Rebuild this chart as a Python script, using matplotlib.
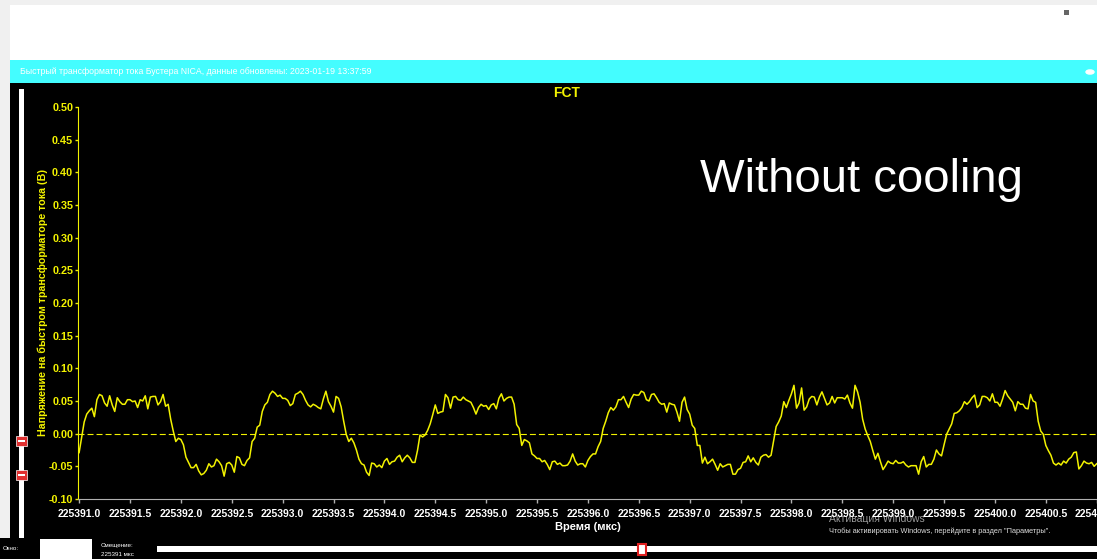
import numpy as np
import matplotlib
matplotlib.use("Agg")
import matplotlib.pyplot as plt
from matplotlib.patches import Rectangle, Circle
from matplotlib.ticker import MultipleLocator, FormatStrFormatter

# FCT signal, sampled every 0.025 us starting at 225391.0 us
t_start = 225391.0
dt = 0.025
voltage = [
    # 225391.0 .. 225393.0
    -0.029, -0.006, 0.018, 0.030, 0.035, 0.039, 0.026, 0.052, 0.060, 0.058,
    0.047, 0.042, 0.058, 0.044, 0.034, 0.055, 0.049, 0.045, 0.045, 0.052,
    0.052, 0.049, 0.050, 0.040, 0.052, 0.050, 0.058, 0.038, 0.056, 0.057,
    0.057, 0.044, 0.049, 0.060, 0.042, 0.045, 0.022, 0.004, -0.012, -0.007,
    -0.009, -0.017, -0.036, -0.044, -0.052, -0.052, -0.047, -0.057, -0.063, -0.061,
    -0.056, -0.046, -0.051, -0.049, -0.039, -0.043, -0.049, -0.065, -0.046, -0.044,
    -0.048, -0.059, -0.035, -0.037, -0.047, -0.049, -0.041, -0.037, -0.012, -0.007,
    0.010, 0.013, 0.034, 0.044, 0.048, 0.060, 0.065, 0.062, 0.057, 0.059,
    # 225393.0 .. 225395.0
    0.054, 0.054, 0.051, 0.043, 0.046, 0.060, 0.062, 0.065, 0.060, 0.051,
    0.044, 0.041, 0.045, 0.043, 0.040, 0.038, 0.053, 0.065, 0.049, 0.042,
    0.033, 0.057, 0.054, 0.041, 0.019, -0.001, -0.012, -0.007, -0.014, -0.025,
    -0.039, -0.046, -0.048, -0.059, -0.064, -0.045, -0.046, -0.051, -0.048, -0.052,
    -0.042, -0.038, -0.047, -0.043, -0.042, -0.036, -0.033, -0.043, -0.037, -0.033,
    -0.037, -0.044, -0.044, -0.026, -0.002, -0.005, -0.002, 0.005, 0.015, 0.029,
    0.044, 0.031, 0.033, 0.034, 0.060, 0.055, 0.039, 0.056, 0.057, 0.052,
    0.051, 0.056, 0.052, 0.050, 0.048, 0.040, 0.030, 0.040, 0.045, 0.042,
    # 225395.0 .. 225397.0
    0.043, 0.037, 0.044, 0.046, 0.038, 0.054, 0.061, 0.050, 0.054, 0.056,
    0.056, 0.045, 0.014, 0.008, -0.018, -0.009, -0.011, -0.014, -0.031, -0.034,
    -0.038, -0.038, -0.043, -0.041, -0.047, -0.055, -0.043, -0.042, -0.047, -0.045,
    -0.049, -0.049, -0.048, -0.042, -0.031, -0.042, -0.048, -0.046, -0.046, -0.051,
    -0.041, -0.035, -0.031, -0.031, -0.020, -0.012, 0.008, 0.019, 0.032, 0.040,
    0.036, 0.041, 0.052, 0.052, 0.057, 0.048, 0.040, 0.053, 0.060, 0.059,
    0.059, 0.065, 0.063, 0.052, 0.050, 0.060, 0.061, 0.055, 0.048, 0.045,
    0.046, 0.033, 0.047, 0.045, 0.044, 0.033, 0.019, 0.048, 0.056, 0.037,
    # 225397.0 .. 225399.0
    0.030, 0.013, 0.008, -0.018, -0.018, -0.045, -0.036, -0.046, -0.043, -0.039,
    -0.047, -0.056, -0.046, -0.051, -0.049, -0.047, -0.047, -0.062, -0.062, -0.055,
    -0.053, -0.044, -0.043, -0.034, -0.043, -0.037, -0.044, -0.048, -0.036, -0.033,
    -0.032, -0.036, -0.033, -0.011, 0.011, 0.018, 0.027, 0.049, 0.040, 0.051,
    0.061, 0.074, 0.039, 0.047, 0.070, 0.036, 0.041, 0.053, 0.057, 0.056,
    0.044, 0.056, 0.064, 0.054, 0.044, 0.047, 0.057, 0.047, 0.055, 0.055,
    0.055, 0.053, 0.059, 0.047, 0.039, 0.074, 0.064, 0.048, 0.022, 0.007,
    -0.003, -0.012, -0.026, -0.039, -0.030, -0.043, -0.055, -0.049, -0.042, -0.045,
    # 225399.0 .. 225401.0
    -0.046, -0.041, -0.045, -0.045, -0.043, -0.048, -0.051, -0.049, -0.049, -0.049,
    -0.062, -0.043, -0.035, -0.051, -0.047, -0.047, -0.039, -0.025, -0.031, -0.034,
    -0.017, -0.001, 0.007, 0.015, 0.031, 0.032, 0.035, 0.040, 0.049, 0.045,
    0.049, 0.055, 0.059, 0.040, 0.044, 0.057, 0.057, 0.055, 0.050, 0.061,
    0.048, 0.048, 0.042, 0.053, 0.066, 0.058, 0.053, 0.048, 0.035, 0.049,
    0.045, 0.045, 0.039, 0.038, 0.060, 0.050, 0.048, 0.019, 0.004, -0.001,
    -0.018, -0.026, -0.033, -0.045, -0.048, -0.045, -0.048, -0.042, -0.045, -0.039,
    -0.036, -0.029, -0.028, -0.054, -0.049, -0.042, -0.045, -0.046, -0.044, -0.050,
    -0.046,
]
time_us = t_start + dt * np.arange(len(voltage))

header = "Быстрый трансформатор тока Бустера NICA, данные обновлены: 2023-01-19 13:37:59"
title = "FCT"
xlabel = "Время (мкс)"
ylabel = "Напряжение на быстром трансформаторе тока (В)"
note = "Without cooling"

W, H = 1097, 559
plt.rcParams['font.family'] = ['Liberation Sans', 'DejaVu Sans']
plt.rcParams['lines.scale_dashes'] = False

fig = plt.figure(figsize=(W / 100, H / 100), dpi=100, facecolor='#f0f0f0')


def fx(px):
    return px / W


def fy(py):
    return 1 - py / H


def box(x0, y0, x1, y1, color, z=-5, **kw):
    fig.add_artist(Rectangle((fx(x0), fy(y1)), (x1 - x0) / W, (y1 - y0) / H,
                             transform=fig.transFigure, facecolor=color,
                             edgecolor=kw.pop('ec', 'none'), zorder=z, **kw))


# page background pieces
box(10, 5, W, 60, 'white')
box(10, 60, W, 83, '#44fdff')
box(10, 83, W, H, 'black')
box(0, 538, 10, H, 'black')
fig.text(fx(20), fy(72), header, color='white', fontsize=6.3, va='center')
fig.add_artist(Circle((fx(1090), fy(72)), 4 / W, transform=fig.transFigure,
                      color='white', zorder=2))
box(1064, 10, 1069, 15, '#666666', z=2)

# left vertical slider
box(18.5, 89, 24, 538, 'white', z=1)
for yc in (441, 475):
    box(16, yc - 5, 27, yc + 5, '#e03030', z=2, ec='#ffffff', linewidth=0.5)
    box(18, yc - 1, 25, yc + 1, 'white', z=3)

# bottom controls
fig.text(fx(3), fy(548), "Окно:", color='white', fontsize=4.5, va='center')
box(40, 539, 92, H, 'white', z=1)
fig.text(fx(101), fy(546), "Смещение:", color='white', fontsize=4.5, va='center')
fig.text(fx(101), fy(555), "225391 мкс", color='white', fontsize=4.5, va='center')
box(157, 546, W, 552, 'white', z=1)
box(638, 544, 646, 555, 'white', z=2, ec='#e02020', linewidth=1.5)

# main plot
ax = fig.add_axes([fx(78), fy(499), (W - 78) / W, (499 - 107) / H])
ax.set_facecolor('black')
ax.plot(time_us, voltage, color='#f2f200', linewidth=1.1)
ax.axhline(0, color='#f2f200', linewidth=0.8, dashes=(4.3, 2.2))

ax.set_xlim(225390.989, 225401.003)
ax.set_ylim(-0.10, 0.50)
ax.xaxis.set_major_locator(MultipleLocator(0.5))
ax.xaxis.set_major_formatter(FormatStrFormatter('%.1f'))
ax.yaxis.set_major_locator(MultipleLocator(0.05))
ax.yaxis.set_major_formatter(FormatStrFormatter('%.2f'))

for side in ('top', 'right'):
    ax.spines[side].set_visible(False)
ax.spines['left'].set_color('#f2f200')
ax.spines['bottom'].set_color('#b0b0b0')
ax.tick_params(axis='x', colors='#b0b0b0', length=3, width=1, pad=4,
               labelcolor='white', labelsize=7.5)
ax.tick_params(axis='y', colors='#f2f200', length=2, width=1, pad=1.5,
               labelcolor='#f2f200', labelsize=7.8)
for lab in ax.get_xticklabels() + ax.get_yticklabels():
    lab.set_fontweight('bold')

ax.set_xlabel(xlabel, color='white', fontsize=8, fontweight='bold', labelpad=2)
ax.set_ylabel(ylabel, color='#f2f200', fontsize=7.7, fontweight='bold')
ax.yaxis.set_label_coords(-0.029, 0.5)

fig.text(fx(567), fy(93), title, color='#f2f200', fontsize=10, fontweight='bold',
         ha='center', va='center')
fig.text(fx(700), fy(192), note, color='white', fontsize=34, va='baseline')

# windows activation watermark from the screenshot
fig.text(fx(829), fy(519), "Активация Windows", color='#9a9a9a', fontsize=7.5,
         va='center', zorder=-1)
fig.text(fx(829), fy(531), 'Чтобы активировать Windows, перейдите в раздел "Параметры".',
         color='#dddddd', fontsize=5.3, va='center')

fig.savefig('out.png', dpi=100, facecolor=fig.get_facecolor())
